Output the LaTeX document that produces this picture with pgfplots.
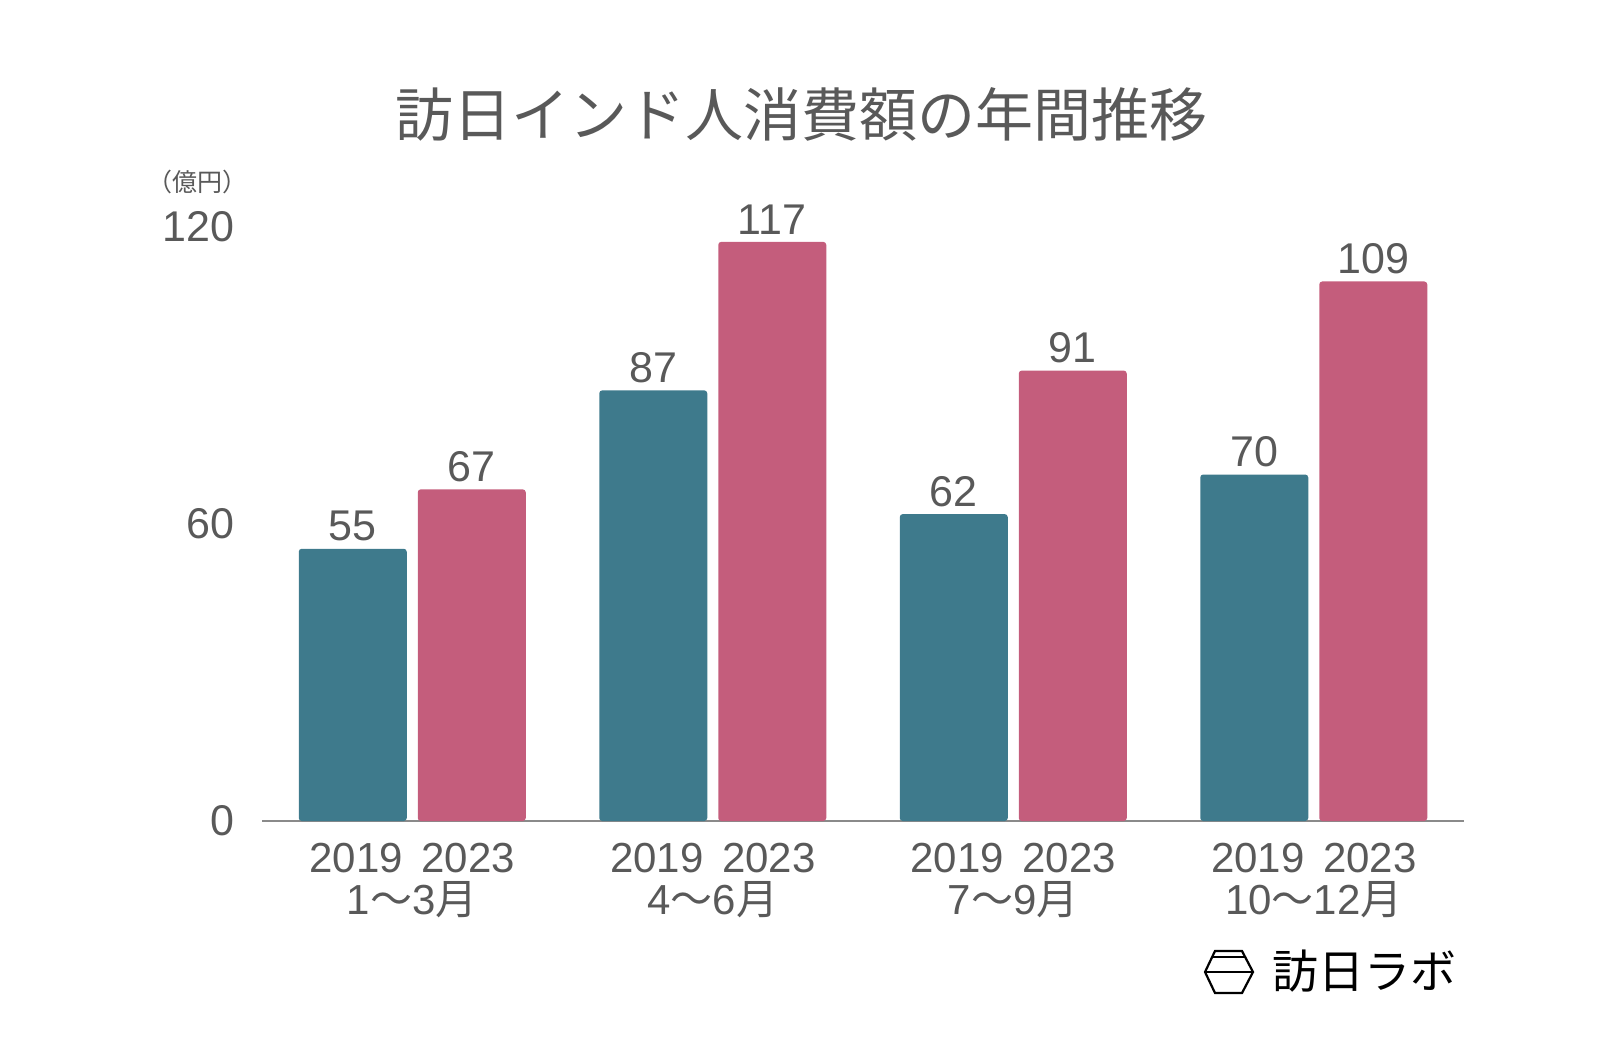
\documentclass[border=0pt]{standalone}
\usepackage{fontspec}
\setmainfont{Liberation Sans}
\newfontfamily\jp{Noto Sans CJK JP}
\usepackage{pgfplots}
\pgfplotsset{compat=1.18}

\definecolor{teal19}{HTML}{3E7A8C}
\definecolor{pink23}{HTML}{C45D7C}
\definecolor{txtgray}{HTML}{595959}
\definecolor{axgray}{HTML}{8A8A8A}

% 1 px of the reference = 0.5pt
\newcommand{\fs}[1]{\fontsize{#1}{#1}\selectfont}
\newcommand{\yrs}{\makebox[56pt]{2019}\makebox[56pt]{2023}}

\begin{document}
\begin{tikzpicture}
\useasboundingbox (0,0) rectangle (800pt,-524pt);

\begin{axis}[
    at={(131pt,-410.5pt)}, anchor=south west,
    scale only axis,
    width=601pt, height=297pt,
    xmin=-0.5, xmax=3.5,
    ymin=0, ymax=120,
    clip=false,
    ybar=5.5pt, bar width=54pt,
    axis x line=bottom, axis y line=left,
    x axis line style={axgray, line width=0.6pt, -},
    y axis line style={draw=none},
    tick style={draw=none},
    xtick=data,
    xticklabels={{\yrs\\1{\jp 〜}3{\jp 月}}, {\yrs\\4{\jp 〜}6{\jp 月}}, {\yrs\\7{\jp 〜}9{\jp 月}}, {\yrs\\10{\jp 〜}12{\jp 月}}},
    xticklabel style={font=\fs{21pt}, text=txtgray, align=center, yshift=-5.5pt},
    ytick={0,60,120},
    yticklabel style={font=\fs{21.5pt}, text=txtgray, xshift=-8pt},
    /pgf/number format/assume math mode=true,
    nodes near coords,
    every node near coord/.append style={font=\fs{21.5pt}, text=txtgray, anchor=south, inner sep=0pt, yshift=3.5pt},
]
\addplot[fill=teal19, draw=none, rounded corners=1.5pt] coordinates {(0,55) (1,87) (2,62) (3,70)};
\addplot[fill=pink23, draw=none, rounded corners=1.5pt] coordinates {(0,67) (1,117) (2,91) (3,109)};
\end{axis}

\node[text=txtgray, font=\jp\fs{29pt}] at (400.5pt,-57pt) {訪日インド人消費額の年間推移};
\node[text=txtgray, font=\jp\fs{12.5pt}] at (98.5pt,-91pt) {（億円）};

% logo
\begin{scope}[black, line width=1.1pt]
\draw (607.5pt,-475.5pt) -- (621pt,-475.5pt) -- (626.5pt,-486pt) -- (621pt,-496.5pt)
      -- (607.5pt,-496.5pt) -- (602.5pt,-486pt) -- cycle;
\draw (606pt,-478.5pt) -- (622.5pt,-478.5pt);
\draw (602.5pt,-486pt) -- (626.5pt,-486pt);
\end{scope}
\node[black, font=\jp\fs{23pt}, anchor=west, inner sep=0pt] at (636pt,-485.5pt) {訪日ラボ};
\end{tikzpicture}
\end{document}
